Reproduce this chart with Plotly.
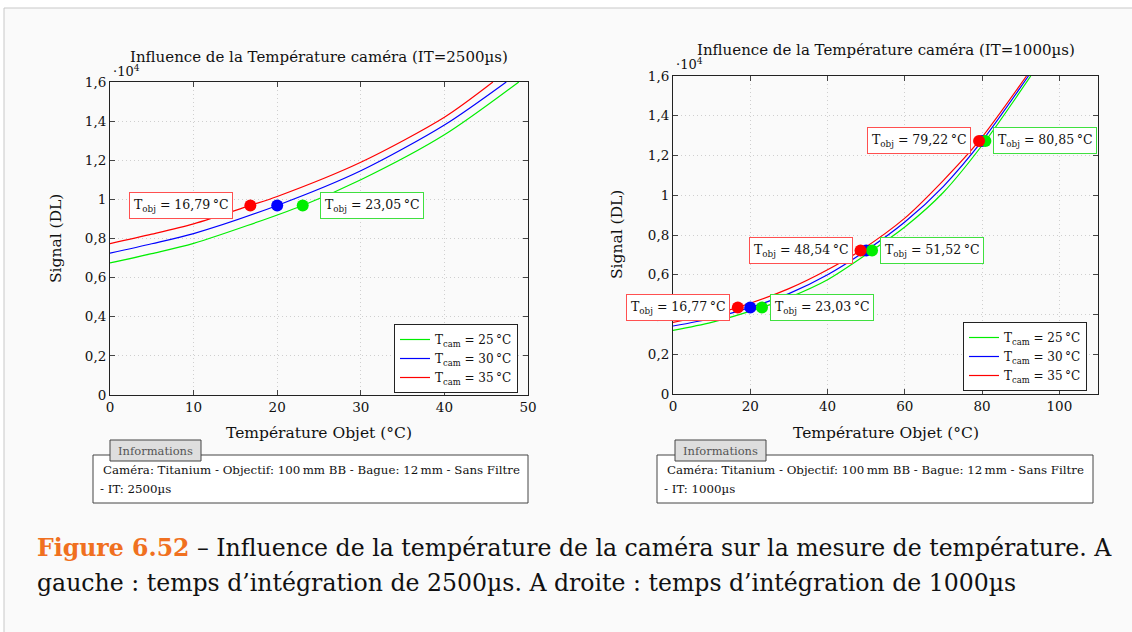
import plotly.graph_objects as go

# ---- data (signal in units of 1e4 DL) ----
# left chart: IT = 2500 us
left_red_x = [0, 5, 10, 16.79, 20, 30, 40, 45.8]
left_red_y = [0.774, 0.822, 0.875, 0.969, 1.015, 1.19, 1.42, 1.6]
left_blue_x = [0, 5, 10, 20, 30, 40, 47.4]
left_blue_y = [0.725, 0.773, 0.825, 0.969, 1.146, 1.38, 1.6]
left_green_x = [0, 5, 10, 23.05, 30, 40, 48.9]
left_green_y = [0.675, 0.723, 0.775, 0.969, 1.10, 1.33, 1.6]
left_mark_signal = [0.969]
left_mark_red = [16.79]
left_mark_blue = [20]
left_mark_green = [23.05]

# right chart: IT = 1000 us
right_red_x = [0, 10, 16.77, 30, 40, 48.54, 60, 70, 79.22, 91.5]
right_red_y = [0.36, 0.40, 0.4356, 0.53, 0.625, 0.722, 0.885, 1.075, 1.273, 1.6]
right_blue_x = [0, 10, 20, 30, 40, 50, 60, 70, 80, 92]
right_blue_y = [0.342, 0.38, 0.4356, 0.505, 0.60, 0.722, 0.865, 1.045, 1.273, 1.6]
right_green_x = [0, 10, 23.03, 30, 40, 51.52, 60, 70, 80.85, 92.6]
right_green_y = [0.32, 0.36, 0.4356, 0.485, 0.575, 0.722, 0.84, 1.015, 1.273, 1.6]
right_mark_signal = [0.4356, 0.722, 1.273]
right_mark_red = [16.77, 48.54, 79.22]
right_mark_blue = [20, 50, 80]
right_mark_green = [23.03, 51.52, 80.85]

legend_labels = ["T<sub>cam</sub> = 25\u2009°C", "T<sub>cam</sub> = 30\u2009°C", "T<sub>cam</sub> = 35\u2009°C"]

W, H = 1132, 632
FONT = "DejaVu Serif"
RED, BLUE, GREEN = "#ff0000", "#0000ff", "#00ee00"
INK = "#111"


def px(x):
    return x / W


def py(y):
    return 1 - y / H


def fmt(v):
    return f"{v:.2f}".replace(".", ",")


def note(x, y, text, size, xanchor="center", color=INK, **kw):
    # paper-positioned text, given in pixels from the top-left corner
    return dict(x=px(x), y=py(y), xref="paper", yref="paper", xanchor=xanchor, yanchor="middle",
                showarrow=False, text=text, font=dict(family=FONT, size=size, color=color), **kw)


fig = go.Figure()

# curves (legend order: green, blue, red)
for xs, ys, col, lab, xa, ya, leg in [
    (left_green_x, left_green_y, GREEN, legend_labels[0], "x", "y", "legend"),
    (left_blue_x, left_blue_y, BLUE, legend_labels[1], "x", "y", "legend"),
    (left_red_x, left_red_y, RED, legend_labels[2], "x", "y", "legend"),
    (right_green_x, right_green_y, GREEN, legend_labels[0], "x2", "y2", "legend2"),
    (right_blue_x, right_blue_y, BLUE, legend_labels[1], "x2", "y2", "legend2"),
    (right_red_x, right_red_y, RED, legend_labels[2], "x2", "y2", "legend2"),
]:
    fig.add_trace(go.Scatter(x=xs, y=ys, mode="lines", name=lab,
                             line=dict(color=col, width=1.2, shape="spline", smoothing=0.8),
                             xaxis=xa, yaxis=ya, legend=leg))

# markers (blue, green, red on top)
for xs, ys, col, xa, ya in [
    (left_mark_blue, left_mark_signal, BLUE, "x", "y"),
    (left_mark_green, left_mark_signal, GREEN, "x", "y"),
    (left_mark_red, left_mark_signal, RED, "x", "y"),
    (right_mark_blue, right_mark_signal, BLUE, "x2", "y2"),
    (right_mark_green, right_mark_signal, GREEN, "x2", "y2"),
    (right_mark_red, right_mark_signal, RED, "x2", "y2"),
]:
    fig.add_trace(go.Scatter(x=xs, y=ys, mode="markers", showlegend=False,
                             marker=dict(color=col, size=12, line=dict(width=0)),
                             xaxis=xa, yaxis=ya))

annotations = []
# T_obj labels
for xs, ys, xa, ya, shift in [(left_mark_red, left_mark_signal, "x", "y", 17),
                              (right_mark_red, right_mark_signal, "x2", "y2", 8)]:
    for xv, yv in zip(xs, ys):
        annotations.append(dict(x=xv, y=yv, xref=xa, yref=ya, xanchor="right", yanchor="middle",
                                xshift=-shift, showarrow=False,
                                text=f"T<sub>obj</sub> = {fmt(xv)}\u2009°C",
                                bgcolor="white", bordercolor="#ff5050", borderwidth=1, borderpad=4,
                                font=dict(family=FONT, size=12.5, color=INK)))
for xs, ys, xa, ya, shift in [(left_mark_green, left_mark_signal, "x", "y", 17),
                              (right_mark_green, right_mark_signal, "x2", "y2", 8)]:
    for xv, yv in zip(xs, ys):
        annotations.append(dict(x=xv, y=yv, xref=xa, yref=ya, xanchor="left", yanchor="middle",
                                xshift=shift, showarrow=False,
                                text=f"T<sub>obj</sub> = {fmt(xv)}\u2009°C",
                                bgcolor="white", bordercolor="#40e040", borderwidth=1, borderpad=4,
                                font=dict(family=FONT, size=12.5, color=INK)))

# titles, axis titles and multipliers
annotations += [
    note(319, 57, "Influence de la Température caméra (IT=2500µs)", 15),
    note(886, 50, "Influence de la Température caméra (IT=1000µs)", 15),
    note(111, 71, "·10<sup>4</sup>", 13, xanchor="left"),
    note(674, 64, "·10<sup>4</sup>", 13, xanchor="left"),
    note(319, 433, "Température Objet (°C)", 15.5),
    note(886, 433, "Température Objet (°C)", 15.5),
    note(56, 239, "Signal (DL)", 15.5, textangle=-90),
    note(617, 235, "Signal (DL)", 15.5, textangle=-90),
]

# page frame and information boxes
shapes = [
    dict(type="rect", xref="paper", yref="paper", x0=px(4), x1=1.2, y0=-0.2, y1=py(8),
         fillcolor="#fafafa", line=dict(color="#c8c8c8", width=1), layer="below"),
]
for bx0, bx1, tx0, it in [(93, 528, 110, "2500µs"), (657, 1093, 675, "1000µs")]:
    shapes.append(dict(type="rect", xref="paper", yref="paper", x0=px(bx0), x1=px(bx1),
                       y0=py(503), y1=py(455), fillcolor="white", line=dict(color="#444", width=1)))
    shapes.append(dict(type="rect", xref="paper", yref="paper", x0=px(tx0), x1=px(tx0 + 91),
                       y0=py(461), y1=py(440), fillcolor="#dedede", line=dict(color="#444", width=1)))
    annotations.append(note(tx0 + 45.5, 451, "Informations", 11.5, color="#555"))
    annotations.append(note(bx0 + 8, 470,
                            "Caméra: Titanium - Objectif: 100\u2009mm BB - Bague: 12\u2009mm - Sans Filtre",
                            11.8, xanchor="left"))
    annotations.append(note(bx0 + 5, 489, f"- IT: {it}", 11.8, xanchor="left"))

# caption
annotations += [
    note(35, 548, "<b><span style='color:#f07020'>Figure 6.52</span></b> – Influence de la température "
                  "de la caméra sur la mesure de température. A", 23.6, xanchor="left"),
    note(35, 583, "gauche : temps d’intégration de 2500µs. A droite : temps d’intégration de 1000µs",
         23.6, xanchor="left"),
]

axis_common = dict(showline=True, linecolor="#222", linewidth=1, mirror="ticks", ticks="inside",
                   ticklen=5, tickcolor="#444", showgrid=True, gridcolor="#cfcfcf", griddash="1px,3px",
                   zeroline=False, automargin=False, tickfont=dict(family=FONT, size=13.5, color=INK))

fig.update_layout(
    width=W, height=H, margin=dict(l=0, r=0, t=0, b=0, autoexpand=False),
    paper_bgcolor="white", plot_bgcolor="#fafafa",
    separators=", ",
    xaxis=dict(domain=[px(110), px(528)], range=[0, 50], dtick=10, anchor="y", **axis_common),
    yaxis=dict(domain=[py(395), py(82)], range=[0, 1.6], dtick=0.2, anchor="x", **axis_common),
    xaxis2=dict(domain=[px(673), px(1098)], range=[0, 110], dtick=20, anchor="y2", **axis_common),
    yaxis2=dict(domain=[py(394), py(76)], range=[0, 1.6], dtick=0.2, anchor="x2", **axis_common),
    legend=dict(x=px(394), y=py(324), xanchor="left", yanchor="top", bgcolor="white",
                bordercolor="#222", borderwidth=1, itemwidth=30, tracegroupgap=0,
                font=dict(family=FONT, size=12, color=INK)),
    legend2=dict(x=px(963), y=py(322), xanchor="left", yanchor="top", bgcolor="white",
                 bordercolor="#222", borderwidth=1, itemwidth=30, tracegroupgap=0,
                 font=dict(family=FONT, size=12, color=INK)),
    shapes=shapes,
    annotations=annotations,
)

fig.write_html("out.html", config={"displayModeBar": False},
               post_script="document.body.style.margin='0';")
